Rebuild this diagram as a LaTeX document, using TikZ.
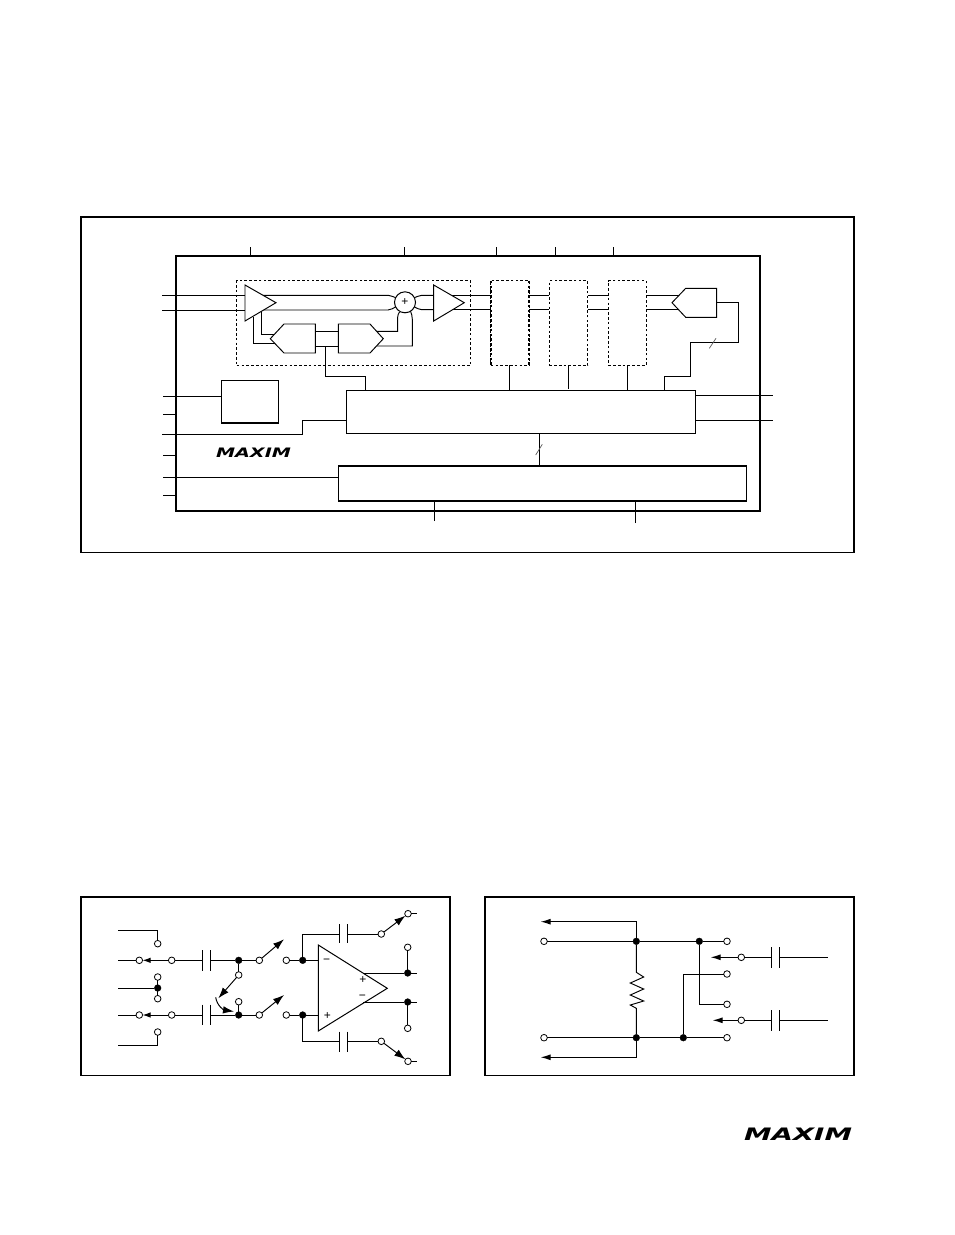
\documentclass[tikz,border=0pt]{standalone}
\usepackage{fontspec}
\setmainfont{Liberation Sans}
\newfontfamily\logofont{DejaVu Sans}
\usetikzlibrary{arrows.meta}
\tikzset{
  frame/.style={draw,line width=1.6pt,fill=none,inner sep=0pt,outer sep=0pt,anchor=north west},
  chip/.style={draw,line width=2pt,inner sep=0pt,outer sep=0pt,anchor=north west},
  blockbox/.style={draw,line width=.95pt,fill=white,inner sep=0pt,outer sep=0pt,anchor=north west},
  dashbox/.style={draw,line width=.9pt,dash pattern=on 2.6pt off 2.2pt,inner sep=0pt,outer sep=0pt,anchor=north west},
  wire/.style={line width=.95pt},
  shapeline/.style={line width=.95pt,line join=miter,fill=white},
  slash/.style={line width=.7pt,draw=black!65},
  opn/.style={circle,draw,line width=.8pt,fill=white,minimum size=6.6pt,inner sep=0pt,outer sep=0pt},
  fil/.style={circle,draw,fill=black,line width=.3pt,minimum size=6.8pt,inner sep=0pt,outer sep=0pt},
  swarrow/.style={line width=.95pt,-{Latex[length=11pt,width=7.5pt]}},
  tinyarrow/.style={line width=.95pt,-{Latex[length=8pt,width=5.5pt]}},
  longarrow/.style={line width=.95pt,-{Latex[length=10pt,width=6pt]}},
  sign/.style={inner sep=0pt,outer sep=0pt,font=\fontsize{12}{12}\selectfont},
  logo/.style={inner sep=0pt,outer sep=0pt,anchor=north west}
}
\begin{document}
\begin{tikzpicture}[x=1pt,y=-1pt]
\useasboundingbox (0,0) rectangle (954,1235);
% ---------- frames ----------
\node[frame,minimum width=773pt,minimum height=335.5pt] (fa) at (81,217) {};
\node[frame,minimum width=369pt,minimum height=178.5pt] (fb) at (81,897) {};
\node[frame,minimum width=369pt,minimum height=178.5pt] (fc) at (485,897) {};
% ---------- chip ----------
\node[chip,minimum width=584pt,minimum height=255pt] (chip) at (176,256) {};
\foreach \n/\x in {t1/250.3,t2/404.5,t3/496.5,t4/555.3,t5/613.5}{
  \coordinate (\n) at (\x,247);
  \draw[wire] (\n) -- (\n |- chip.north);
}
\coordinate (b1) at (434.5,521);
\coordinate (b2) at (635.3,523);
\foreach \n/\y in {l2/414,l4/455.3,l6/495.3}{
  \coordinate (\n) at (163,\y);
  \draw[wire] (\n) -- (\n -| chip.west);
}
\coordinate (l1) at (163,396.3);
\coordinate (l3) at (162,434.3);
\coordinate (l5) at (163,477.3);
\coordinate (in1) at (162,295.3);
\coordinate (in2) at (162,310);
\coordinate (r1) at (772.7,395.3);
\coordinate (r2) at (772.7,420.3);
% dashed modulator box
\node[dashbox,minimum width=234pt,minimum height=84.6pt] (mod) at (236.7,280.7) {};
% inner blocks
\node[dashbox,minimum width=38.6pt,minimum height=84.6pt] (d1) at (490.7,280.7) {};
\draw[line width=2.2pt,dash pattern=on 2.6pt off 2.2pt] (d1.north west) -- (d1.south west);
\draw[line width=2.2pt,dash pattern=on 2.6pt off 2.2pt] (d1.north east) -- (d1.south east);
\node[dashbox,minimum width=38.4pt,minimum height=84.6pt] (d2) at (549.3,280.7) {};
\node[dashbox,minimum width=38pt,minimum height=84.6pt] (d3) at (608.3,280.7) {};
\node[blockbox,minimum width=57.4pt,minimum height=42.4pt] (vref) at (221.3,380.3) {};
\draw[line width=2pt] (vref.south west) -- (vref.south east);
\node[blockbox,minimum width=349pt,minimum height=43pt] (ctl) at (346.7,390.3) {};
\node[blockbox,minimum width=408.4pt,minimum height=35pt] (iface) at (338.3,465.7) {};
\draw[line width=2pt] (iface.north west) -- (iface.north east);
\draw[line width=2pt] (iface.south west) -- (iface.south east);
% wires into and between blocks
\draw[wire] (in1) -- (245,295.3);
\draw[wire] (in2) -- (245,310);
\draw[wire] (262,295.3) -- (388,295.3) .. controls (391,295.3) and (393,297) .. (396,297.8);
\draw[wire] (262,310) -- (388,310) .. controls (391,310) and (393,308) .. (396,306.8);
\draw[wire] (414,297.8) .. controls (417,297) and (419,295.3) .. (422,295.3) -- (434,295.3);
\draw[wire] (414,306.8) .. controls (417,308) and (419,309.7) .. (422,309.7) -- (434,309.7);
\draw[wire] (449,295.3) -- (490.7,295.3);
\draw[wire] (452,309.4) -- (490.7,309.4);
\draw[wire] (529.3,295.3) -- (549.3,295.3);
\draw[wire] (529.3,309.4) -- (549.3,309.4);
\draw[wire] (587.7,295.3) -- (608.3,295.3);
\draw[wire] (587.7,309.4) -- (608.3,309.4);
\draw[wire] (646.3,295.3) -- (680,295.3);
\draw[wire] (646.3,309.4) -- (680,309.4);
\draw[wire] (261.3,311) -- (261.3,334.3) -- (275,334.3);
\draw[wire] (253.3,317) -- (253.3,343.3) -- (276,343.3);
\draw[wire] (315.3,331) -- (338.3,331);
\draw[wire] (315.3,346.3) -- (338.3,346.3);
\draw[wire] (325.3,346.3) -- (325.3,376.3) -- (365.3,376.3) -- (365.3,390.3);
\draw[wire] (375,331.3) -- (397.7,331.3) -- (397.7,317) .. controls (397.7,315) and (398.5,313.5) .. (399.5,312);
\draw[wire] (375,346) -- (412.3,346) -- (412.3,319) .. controls (412.3,316) and (411.5,314) .. (410.5,311);
% shapes
\draw[shapeline] (245,285) coordinate (a1) -- (245,321) -- (276,302.7) -- cycle;
\draw[shapeline] (433.7,285) coordinate (a2) -- (433.7,321) -- (464.3,302.7) -- cycle;
\node[circle,draw,line width=1pt,fill=white,minimum size=21pt,inner sep=0pt,outer sep=0pt] (sum) at (405,302.3) {};
\node[sign] (plus) at (405,302) {+};
\draw[shapeline] (270.3,338.7) -- (284,324) -- (315.3,324) -- (315.3,353) -- (284,353) -- cycle;
\draw[shapeline] (338.3,324) -- (370,324) -- (383.3,338.7) -- (370,353) -- (338.3,353) -- cycle;
\draw[shapeline] (672,302.7) -- (685.7,288.3) -- (716.7,288.3) -- (716.7,317.3) -- (685.7,317.3) -- cycle;
% control wires
\draw[wire] (716.7,302.3) -- (738.3,302.3) -- (738.3,342.3) -- (690.3,342.3) -- (690.3,376) -- (664.3,376) -- (664.3,390.3);
\draw[slash] (709.3,348.3) -- (716,338.3);
\draw[wire] (509.3,365.3) -- (509.3,390.3);
\draw[wire] (568.3,365.3) -- (568.3,388.7);
\draw[wire] (627.3,365.3) -- (627.3,390.3);
\draw[wire] (539.3,433.3) -- (539.3,465.7);
\draw[slash] (535.7,455) -- (542.3,444.3);
\draw[wire] (l1) -- (l1 -| vref.west);
\draw[wire] (l3) -- (302.7,434.3) -- (302.7,420.3) -- (346.7,420.3);
\draw[wire] (l5) -- (l5 -| iface.west);
\draw[wire] (695.7,395.3) -- (r1);
\draw[wire] (695.7,420.3) -- (r2);
\draw[wire] (b1) -- (434.5,500.7);
\draw[wire] (b2) -- (635.3,500.7);
\node[logo] (logoa) at (216,448.3) {\resizebox{75pt}{9.5pt}{\logofont\bfseries\itshape MAXIM}};
\node[logo] (logob) at (744,1128.3) {\resizebox{108pt}{12.5pt}{\logofont\bfseries\itshape MAXIM}};
% ---------- panel B ----------
\node[opn] (o1) at (157.7,943.7) {};
\coordinate (w1) at (118,930.3);
\draw[wire] (w1) -- (157.7,930.3) -- (o1);
\coordinate (w2) at (118,960.3);
\node[opn] (o2) at (139.3,960.3) {};
\node[opn] (o3) at (171.7,960.3) {};
\draw[wire] (w2) -- (o2);
\draw[tinyarrow] (o3) -- (o2);
\coordinate (c1a) at (202.3,960.3);
\coordinate (c1b) at (210.7,960.3);
\draw[wire] (o3) -- (c1a);
\draw[wire] (202.3,950) -- (202.3,970.7);
\draw[wire] (210.7,950) -- (210.7,970.7);
\node[fil] (f1) at (238.7,960.3) {};
\node[opn] (o4) at (259.3,960.3) {};
\draw[wire] (c1b) -- (f1) -- (o4);
\coordinate (s1) at (284,939.3);
\draw[swarrow] (o4) -- (s1);
\node[opn] (o5) at (286.3,960.3) {};
\node[fil] (f2) at (302.7,960.3) {};
\coordinate (op1) at (318.3,960.3);
\draw[wire] (o5) -- (f2) -- (op1);
\coordinate (w3) at (118,988);
\node[fil] (f3) at (157.7,988) {};
\node[opn] (o6) at (157.7,977) {};
\node[opn] (o7) at (157.7,998.7) {};
\draw[wire] (w3) -- (f3);
\draw[wire] (o6) -- (o7);
\coordinate (w4) at (118,1015);
\node[opn] (o8) at (139.3,1015) {};
\node[opn] (o9) at (171.7,1015) {};
\draw[wire] (w4) -- (o8);
\draw[tinyarrow] (o9) -- (o8);
\coordinate (c2a) at (202.3,1015);
\coordinate (c2b) at (210.7,1015);
\draw[wire] (o9) -- (c2a);
\draw[wire] (202.3,1004.7) -- (202.3,1025.4);
\draw[wire] (210.7,1004.7) -- (210.7,1025.4);
\node[fil] (f4) at (238.7,1015) {};
\node[opn] (o10) at (259.3,1015) {};
\draw[wire] (c2b) -- (f4) -- (o10);
\coordinate (s2) at (284,995);
\draw[swarrow] (o10) -- (s2);
\node[opn] (o11) at (286.3,1015) {};
\node[fil] (f5) at (302.7,1015) {};
\coordinate (op2) at (318.3,1015);
\draw[wire] (o11) -- (f5) -- (op2);
\node[opn] (o12) at (157.7,1032) {};
\coordinate (w5) at (118,1045.3);
\draw[wire] (w5) -- (157.7,1045.3) -- (o12);
\node[opn] (o13) at (238.7,975) {};
\draw[wire] (f1) -- (o13);
\coordinate (s3) at (218.3,998.3);
\draw[swarrow] (o13) -- (s3);
\node[opn] (o14) at (238.7,1001.7) {};
\draw[wire] (o14) -- (f4);
\coordinate (s4a) at (215.7,997.3);
\coordinate (s4b) at (234,1011.5);
\draw[swarrow] (s4a) .. controls (217,1006) and (224,1010) .. (s4b);
% op amp
\draw[line width=1pt,fill=white] (318.3,945) coordinate (oa) -- (387.3,988.3) coordinate (ob) -- (318.3,1031) coordinate (oc) -- cycle;
\node[sign] (m1) at (326.7,961) {−};
\node[sign] (p1) at (363,979.7) {+};
\node[sign] (m2) at (362.3,997) {−};
\node[sign] (p2) at (327.3,1015.7) {+};
% feedback
\coordinate (c3a) at (339.7,934);
\coordinate (c3b) at (347.7,934);
\draw[wire] (f2) -- (302.7,934) -- (c3a);
\draw[wire] (339.7,924) -- (339.7,943.3);
\draw[wire] (347.7,924) -- (347.7,943.3);
\node[opn] (o15) at (381.3,934) {};
\draw[wire] (c3b) -- (o15);
\node[opn] (o16) at (408,913.7) {};
\draw[swarrow] (o15) -- (o16);
\coordinate (e1) at (416.7,913.7);
\draw[wire] (o16) -- (e1);
\coordinate (c4a) at (339.7,1041.3);
\coordinate (c4b) at (347.7,1041.3);
\draw[wire] (f5) -- (302.7,1041.3) -- (c4a);
\draw[wire] (339.7,1031.7) -- (339.7,1051.7);
\draw[wire] (347.7,1031.7) -- (347.7,1051.7);
\node[opn] (o17) at (381.3,1041.3) {};
\draw[wire] (c4b) -- (o17);
\node[opn] (o18) at (408,1061.3) {};
\draw[swarrow] (o17) -- (o18);
\coordinate (e2) at (416.7,1061.3);
\draw[wire] (o18) -- (e2);
% outputs
\node[fil] (f6) at (407.7,973) {};
\node[opn] (o19) at (407.7,947.3) {};
\coordinate (e3) at (416.7,973);
\coordinate (e3s) at (363,973);
\draw[wire] (e3s) -- (f6) -- (e3);
\draw[wire] (f6) -- (o19);
\node[fil] (f7) at (407.7,1002) {};
\node[opn] (o20) at (407.7,1028.3) {};
\coordinate (e4) at (416.7,1002);
\coordinate (e4s) at (363,1002);
\draw[wire] (e4s) -- (f7) -- (e4);
\draw[wire] (f7) -- (o20);
% ---------- panel C ----------
\node[opn] (q1) at (544,941.3) {};
\node[fil] (g1) at (636.3,941.3) {};
\node[fil] (g2) at (699.3,941.3) {};
\node[opn] (q2) at (727,941.3) {};
\draw[wire] (q1) -- (g1) -- (g2) -- (q2);
\coordinate (t1a) at (540.7,921.7);
\draw[longarrow] (g1) -- (636.3,921.7) -- (t1a);
\node[opn] (q3) at (544,1037.7) {};
\node[fil] (g3) at (636.3,1037.7) {};
\node[fil] (g4) at (683.3,1037.7) {};
\node[opn] (q4) at (727,1037.7) {};
\draw[wire] (q3) -- (g3) -- (g4) -- (q4);
\coordinate (t2a) at (540.7,1057.3);
\draw[longarrow] (g3) -- (636.3,1057.3) -- (t2a);
\draw[line width=.95pt,line join=miter] (g1) -- (636.3,972.3) -- (643.7,977) -- (630.3,983) -- (643.7,989) -- (630.3,995) -- (643.7,1001) -- (630.3,1005) -- (636.3,1008.3) -- (g3);
\node[opn] (q5) at (727,1004.3) {};
\draw[wire] (g2) -- (699.3,1004.3) -- (q5);
\node[opn] (q6) at (727,974) {};
\draw[wire] (g4) -- (683.3,974) -- (q6);
\node[opn] (q7) at (741.3,957.3) {};
\coordinate (t3) at (710.7,957.3);
\draw[longarrow] (q7) -- (t3);
\coordinate (c5a) at (771.7,957.3);
\coordinate (c5b) at (779.7,957.3);
\coordinate (e5) at (828,957.3);
\draw[wire] (q7) -- (c5a);
\draw[wire] (771.7,947.3) -- (771.7,967.7);
\draw[wire] (779.7,947.3) -- (779.7,967.7);
\draw[wire] (c5b) -- (e5);
\node[opn] (q8) at (741.3,1020.3) {};
\coordinate (t4) at (712.7,1020.3);
\draw[longarrow] (q8) -- (t4);
\coordinate (c6a) at (771.7,1020.3);
\coordinate (c6b) at (779.7,1020.3);
\coordinate (e6) at (828,1020.3);
\draw[wire] (q8) -- (c6a);
\draw[wire] (771.7,1010) -- (771.7,1030.7);
\draw[wire] (779.7,1010) -- (779.7,1030.7);
\draw[wire] (c6b) -- (e6);
\end{tikzpicture}
\end{document}
